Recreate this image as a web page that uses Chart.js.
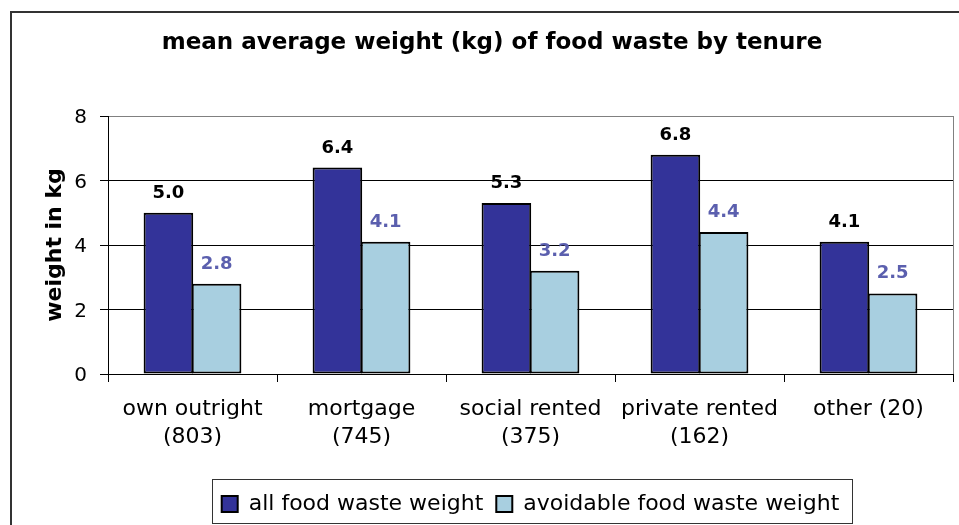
<!DOCTYPE html>
<html>
<head>
<meta charset="utf-8">
<title>mean average weight (kg) of food waste by tenure</title>
<script src="https://cdn.jsdelivr.net/npm/chart.js@4.4.0/dist/chart.umd.min.js"></script>
<style>
  html, body { margin: 0; padding: 0; overflow: hidden; background: #fff; }
  #frame { position: absolute; left: 10px; top: 11px; width: 1000px; height: 600px; border: 2px solid #333; }
  #wasteChart { position: absolute; left: 0; top: 0; }
</style>
</head>
<body>
<div id="frame"></div>
<canvas id="wasteChart" width="959" height="525"></canvas>
<script>
const categories = [
    ['own outright', '(803)'],
    ['mortgage', '(745)'],
    ['social rented', '(375)'],
    ['private rented', '(162)'],
    'other (20)'
];
const allWaste = [5.0, 6.4, 5.3, 6.8, 4.1];
const avoidableWaste = [2.8, 4.1, 3.2, 4.4, 2.5];
const seriesNames = ['all food waste weight', 'avoidable food waste weight'];
const yTicks = [0, 2, 4, 6, 8];

const labelColors = ['#000000', '#5b5fae'];
const fontFamily = '"DejaVu Sans", Verdana, sans-serif';

// value labels above each bar
const barLabels = {
    id: 'barLabels',
    afterDatasetsDraw(chart) {
        const ctx = chart.ctx;
        ctx.save();
        ctx.font = 'bold 18px ' + fontFamily;
        ctx.textAlign = 'center';
        ctx.textBaseline = 'alphabetic';
        chart.data.datasets.forEach((ds, i) => {
            chart.getDatasetMeta(i).data.forEach((bar, j) => {
                ctx.fillStyle = labelColors[i];
                ctx.fillText(ds.data[j].toFixed(1), bar.x, bar.y - 15);
            });
        });
        ctx.restore();
    }
};

// box round the legend items
const legendFrame = {
    id: 'legendFrame',
    afterDraw(chart) {
        const boxes = chart.legend.legendHitBoxes;
        if (!boxes || !boxes.length) return;
        const first = boxes[0];
        const last = boxes[boxes.length - 1];
        const ctx = chart.ctx;
        ctx.save();
        ctx.strokeStyle = '#333';
        ctx.lineWidth = 1;
        ctx.strokeRect(
            Math.round(first.left - 10) + 0.5,
            Math.round(chart.legend.top) - 0.5,
            Math.round(last.left + last.width - first.left + 22),
            Math.round(chart.legend.height - 1)
        );
        ctx.restore();
    }
};

const ctx = document.getElementById('wasteChart').getContext('2d');
new Chart(ctx, {
    type: 'bar',
    data: {
        labels: categories,
        datasets: [{
            label: seriesNames[0],
            data: allWaste,
            backgroundColor: '#333399',
            borderColor: '#000',
            borderWidth: 2,
            borderSkipped: false,
            categoryPercentage: 0.57,
            barPercentage: 1.03
        }, {
            label: seriesNames[1],
            data: avoidableWaste,
            backgroundColor: '#a8cfe0',
            borderColor: '#000',
            borderWidth: 2,
            borderSkipped: false,
            categoryPercentage: 0.57,
            barPercentage: 1.03
        }]
    },
    options: {
        responsive: false,
        animation: false,
        layout: { padding: { left: 31, right: 6, top: 0, bottom: 0 } },
        scales: {
            x: {
                grid: {
                    drawOnChartArea: true,
                    color: c => (c.type === 'scale' ? '#808080' : 'rgba(0,0,0,0)'),
                    tickColor: '#000',
                    tickLength: 8
                },
                border: { color: '#000', width: 1 },
                ticks: {
                    color: '#000',
                    font: { family: fontFamily, size: 22, lineHeight: 1.27 },
                    padding: 13,
                    maxRotation: 0,
                    autoSkip: false
                },
                afterFit: scale => { scale.height = 106; }
            },
            y: {
                min: 0,
                max: 8,
                afterBuildTicks: scale => { scale.ticks = yTicks.map(v => ({ value: v })); },
                grid: {
                    color: c => (c.tick && c.tick.value === 8 ? '#808080' : '#000'),
                    tickColor: '#000',
                    tickLength: 8
                },
                border: { color: '#000', width: 1 },
                ticks: {
                    color: '#000',
                    font: { family: fontFamily, size: 20 },
                    padding: 13,
                    labelOffset: 2
                },
                title: {
                    display: true,
                    text: 'weight in kg',
                    color: '#000',
                    font: { family: fontFamily, size: 22, weight: 'bold' },
                    padding: { top: 11, bottom: 0 }
                },
                afterFit: scale => { scale.width = 77; }
            }
        },
        plugins: {
            title: {
                display: true,
                text: 'mean average weight (kg) of food waste by tenure',
                color: '#000',
                font: { family: fontFamily, size: 23, weight: 'bold', lineHeight: 1.2 },
                padding: { top: 29, bottom: 59.4 }
            },
            legend: {
                display: true,
                position: 'bottom',
                fullSize: false,
                maxHeight: 47,
                labels: {
                    color: '#000',
                    font: { family: fontFamily, size: 22 },
                    boxWidth: 16,
                    boxHeight: 16,
                    padding: 13
                }
            },
            tooltip: { enabled: false }
        }
    },
    plugins: [barLabels, legendFrame]
});
</script>
</body>
</html>
